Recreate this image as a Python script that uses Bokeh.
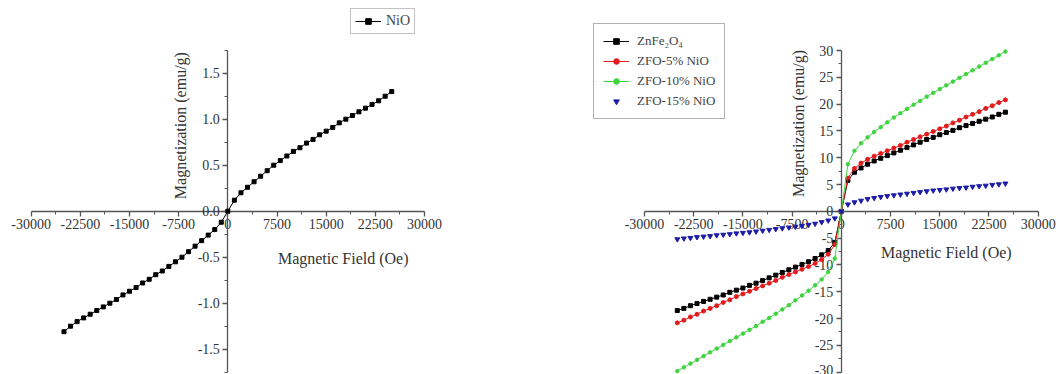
import math
from bokeh.plotting import figure
from bokeh.models import Range1d, FixedTicker, Legend, LegendItem, Label
from bokeh.layouts import row
from bokeh.embed import file_html
from bokeh.resources import INLINE

# ---------------- data ----------------
field = [-25000, -24000, -23000, -22000, -21000, -20000, -19000, -18000, -17000, -16000,
         -15000, -14000, -13000, -12000, -11000, -10000, -9000, -8000, -7000, -6000,
         -5000, -4000, -3000, -2000, -1000, 0, 1000, 2000, 3000, 4000, 5000, 6000, 7000,
         8000, 9000, 10000, 11000, 12000, 13000, 14000, 15000, 16000, 17000, 18000, 19000,
         20000, 21000, 22000, 23000, 24000, 25000]

nio = [-1.31, -1.25, -1.20, -1.16, -1.12, -1.08, -1.04, -1.00, -0.96, -0.91, -0.87, -0.83,
       -0.78, -0.74, -0.69, -0.65, -0.60, -0.55, -0.50, -0.44, -0.38, -0.32, -0.26, -0.20,
       -0.12, 0.0, 0.12, 0.20, 0.26, 0.32, 0.38, 0.44, 0.50, 0.55, 0.60, 0.65, 0.69, 0.74,
       0.78, 0.83, 0.87, 0.91, 0.96, 1.00, 1.04, 1.08, 1.12, 1.16, 1.20, 1.25, 1.30]

zfo = [-18.5, -18.1, -17.6, -17.2, -16.8, -16.4, -16.0, -15.6, -15.1, -14.7, -14.3, -13.8,
       -13.4, -12.9, -12.4, -11.9, -11.4, -10.9, -10.4, -9.9, -9.4, -8.8, -8.1, -7.3, -5.8,
       0.0, 5.8, 7.3, 8.1, 8.8, 9.4, 9.9, 10.4, 10.9, 11.4, 11.9, 12.4, 12.9, 13.4, 13.8,
       14.3, 14.7, 15.1, 15.6, 16.0, 16.4, 16.8, 17.2, 17.6, 18.1, 18.5]

zfo5 = [-20.8, -20.3, -19.7, -19.2, -18.6, -18.1, -17.6, -17.0, -16.5, -15.9, -15.4, -14.9,
        -14.4, -13.9, -13.4, -12.9, -12.3, -11.8, -11.3, -10.8, -10.3, -9.7, -9.0, -8.0, -6.2,
        0.0, 6.2, 8.0, 9.0, 9.7, 10.3, 10.8, 11.3, 11.8, 12.3, 12.9, 13.4, 13.9, 14.4, 14.9,
        15.4, 15.9, 16.5, 17.0, 17.6, 18.1, 18.6, 19.2, 19.7, 20.3, 20.8]

zfo10 = [-29.8, -29.1, -28.4, -27.7, -27.0, -26.3, -25.6, -24.9, -24.2, -23.5, -22.8, -22.1,
         -21.4, -20.6, -19.9, -19.1, -18.3, -17.5, -16.6, -15.7, -14.8, -13.8, -12.7, -11.3,
         -8.8, 0.0, 8.8, 11.3, 12.7, 13.8, 14.8, 15.7, 16.6, 17.5, 18.3, 19.1, 19.9, 20.6,
         21.4, 22.1, 22.8, 23.5, 24.2, 24.9, 25.6, 26.3, 27.0, 27.7, 28.4, 29.1, 29.8]

zfo15 = [-5.2, -5.05, -4.95, -4.8, -4.7, -4.6, -4.45, -4.35, -4.25, -4.1, -4.0, -3.9, -3.75,
         -3.6, -3.45, -3.3, -3.15, -3.0, -2.85, -2.7, -2.5, -2.3, -2.0, -1.7, -1.3, 0.0, 1.3,
         1.7, 2.0, 2.3, 2.5, 2.7, 2.85, 3.0, 3.15, 3.3, 3.45, 3.6, 3.75, 3.9, 4.0, 4.1, 4.25,
         4.35, 4.45, 4.6, 4.7, 4.8, 4.95, 5.05, 5.2]

x_ticks = [-30000, -22500, -15000, -7500, 0, 7500, 15000, 22500, 30000]
x_tick_labels = ["-30000", "-22500", "-15000", "-7500", "0", "7500", "15000", "22500", "30000"]
x_minor = [-26250, -18750, -11250, -3750, 3750, 11250, 18750, 26250]

y1_ticks = [-1.5, -1.0, -0.5, 0.0, 0.5, 1.0, 1.5]
y1_tick_labels = ["-1.5", "-1.0", "-0.5", "0.0", "0.5", "1.0", "1.5"]
y1_minor = [-1.75, -1.25, -0.75, -0.25, 0.25, 0.75, 1.25, 1.75]

y2_ticks = [-30, -25, -20, -15, -10, -5, 0, 5, 10, 15, 20, 25, 30]
y2_tick_labels = ["-30", "-25", "-20", "-15", "-10", "-5", "0", "5", "10", "15", "20", "25", "30"]
y2_minor = [-27.5, -22.5, -17.5, -12.5, -7.5, -2.5, 2.5, 7.5, 12.5, 17.5, 22.5, 27.5]

FONT = "Liberation Serif"
AX = "#555555"


def style_axes(p, xt, xl, xm, xb, yt, yl, ym, yb):
    p.xgrid.visible = False
    p.ygrid.visible = False
    p.outline_line_color = None
    for ax, t, l, m, b in ((p.xaxis[0], xt, xl, xm, xb), (p.yaxis[0], yt, yl, ym, yb)):
        ax.fixed_location = 0
        ax.bounds = b
        ax.ticker = FixedTicker(ticks=t, minor_ticks=m)
        ax.major_label_overrides = {k: v for k, v in zip(t, l)}
        ax.axis_line_color = AX
        ax.axis_line_width = 1.3
        ax.major_tick_line_color = AX
        ax.minor_tick_line_color = AX
        ax.major_tick_line_width = 1.3
        ax.major_tick_out = 5
        ax.major_tick_in = 0
        ax.minor_tick_out = 3
        ax.minor_tick_in = 0
        ax.major_label_text_font = FONT
        ax.major_label_text_font_size = "14px"
        ax.major_label_text_color = "#333333"
        ax.major_label_standoff = 3
        ax.level = "underlay"


def title_label(p, x, y, text, angle=0.0):
    p.add_layout(Label(x=x, y=y, text=text, text_font=FONT, text_font_size="16px",
                       text_color="#333333", text_align="center", text_baseline="middle",
                       angle=angle))


def make_fig(w, xr, yr):
    return figure(width=w, height=374, x_range=Range1d(*xr), y_range=Range1d(*yr),
                  output_backend="svg", toolbar_location=None,
                  min_border_left=0, min_border_right=0, min_border_top=0, min_border_bottom=0)


# ---------------- left panel ----------------
p1 = make_fig(470, (-34683, 37018), (-1.775, 2.290))
style_axes(p1, x_ticks, x_tick_labels, x_minor, (-30000, 30000),
           y1_ticks, y1_tick_labels, y1_minor, (-1.75, 1.75))

l1 = p1.line(field, nio, line_color="black", line_width=1)
s1 = p1.scatter(field, nio, marker="square", size=4, color="black")

leg1 = Legend(items=[LegendItem(label="NiO", renderers=[l1, s1])], location=(350, 340),
              label_text_font=FONT, label_text_font_size="14px", label_height=14,
              glyph_height=14, glyph_width=26, label_standoff=5, padding=4, spacing=0,
              border_line_color="#888888", border_line_width=1, background_fill_alpha=0)
p1.add_layout(leg1)

title_label(p1, -7250, 0.93, "Magnetization (emu/g)", math.pi / 2)
title_label(p1, 17600, -0.51, "Magnetic Field (Oe)")

# ---------------- right panel ----------------
p2 = make_fig(586, (-56515, 32787), (-30.43, 39.33))
style_axes(p2, x_ticks, x_tick_labels, x_minor, (-30000, 30000),
           y2_ticks, y2_tick_labels, y2_minor, (-30, 30))

la = p2.line(field, zfo, line_color="black", line_width=1)
sa = p2.scatter(field, zfo, marker="square", size=4, color="black")
lb = p2.line(field, zfo5, line_color="#e41a1c", line_width=1)
sb = p2.scatter(field, zfo5, marker="circle", size=4, color="#e41a1c")
lc = p2.line(field, zfo10, line_color="#3ed43e", line_width=1)
sc = p2.scatter(field, zfo10, marker="circle", size=3.5, color="#3ed43e")
sd = p2.scatter(field, zfo15, marker="inverted_triangle", size=5, color="#1c1ca8")

leg2 = Legend(items=[LegendItem(label="ZnFe\u2082O\u2084", renderers=[la, sa]),
                     LegendItem(label="ZFO-5% NiO", renderers=[lb, sb]),
                     LegendItem(label="ZFO-10% NiO", renderers=[lc, sc]),
                     LegendItem(label="ZFO-15% NiO", renderers=[sd])],
              location=(123, 255),
              label_text_font=FONT, label_text_font_size="13px", label_height=14,
              glyph_height=14, glyph_width=26, label_standoff=8, padding=9, spacing=4,
              border_line_color="#666666", border_line_width=1.3, background_fill_alpha=0)
p2.add_layout(leg2)

title_label(p2, -6550, 16.4, "Magnetization (emu/g)", math.pi / 2)
title_label(p2, 16000, -7.7, "Magnetic Field (Oe)")

layout = row(p1, p2)
open("out.html", "w").write(file_html(layout, INLINE))
